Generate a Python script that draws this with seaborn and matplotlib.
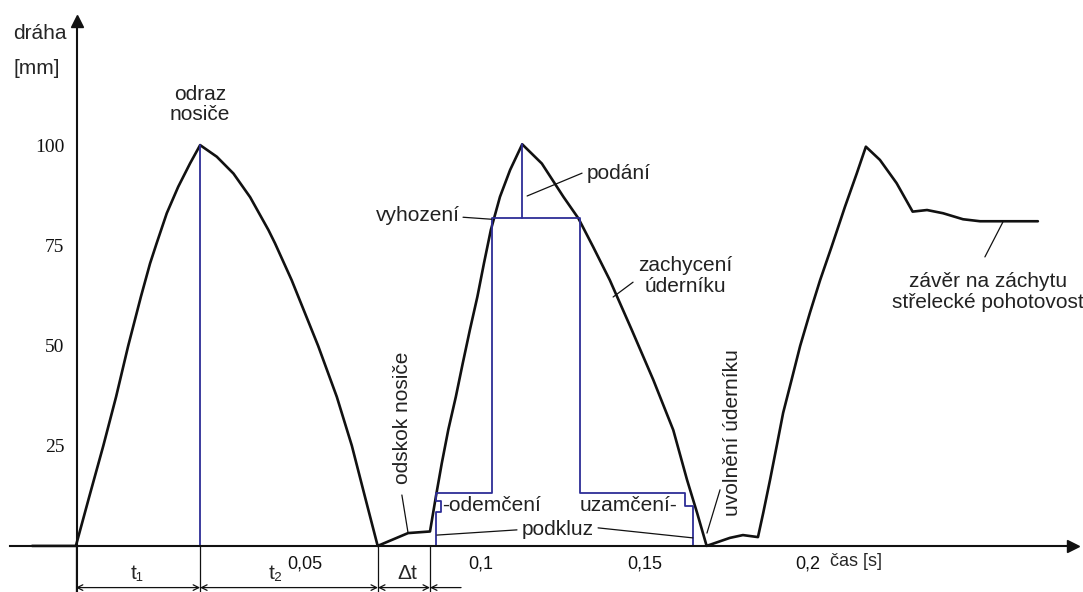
import pandas as pd
import seaborn as sns
import matplotlib
matplotlib.use("Agg")
import matplotlib.pyplot as plt
from matplotlib.transforms import ScaledTranslation

# draha zaveru [mm] v case [s]
cas = [-0.0373, -0.0239, -0.0198, -0.0155, -0.0116, -0.0079, -0.0040, -0.0012,
       0.0008, 0.0039, 0.0074, 0.0110, 0.0141,
       0.0192, 0.0243, 0.0294, 0.0350, 0.0370, 0.0421, 0.0502, 0.0559, 0.0605,
       0.0645, 0.0684,
       0.0777, 0.0844,
       0.0862, 0.0880, 0.0900, 0.0923, 0.0944, 0.0966, 0.0989, 0.1009, 0.1030,
       0.1058, 0.1089, 0.1126,
       0.1186, 0.1252, 0.1298, 0.1343, 0.1394, 0.1461, 0.1527, 0.1588, 0.1630,
       0.1661, 0.1690,
       0.1761, 0.1801, 0.1847,
       0.1863, 0.1884, 0.1904, 0.1924, 0.1950, 0.1976, 0.2006, 0.2037, 0.2072,
       0.2113, 0.2149, 0.2177,
       0.2220, 0.2271, 0.2320, 0.2364, 0.2413, 0.2474, 0.2526, 0.2703]
draha = [0, 0, 12.3, 25.0, 37.2, 49.9, 62.2, 70.5,
         75.5, 83.0, 89.6, 95.4, 100.0,
         97.1, 92.9, 87.0, 78.8, 75.5, 66.3, 49.9, 37.2, 25.0,
         12.3, 0,
         3.2, 3.6,
         12.3, 20.6, 29.0, 37.2, 45.5, 53.9, 62.2, 70.5, 78.8,
         87.1, 93.8, 100.2,
         95.4, 87.1, 81.7, 74.6, 66.3, 53.9, 41.4, 28.9, 16.5,
         8.2, 0,
         2.0, 2.7, 2.2,
         8.2, 16.5, 24.8, 33.2, 41.5, 49.9, 58.2, 66.3, 74.6,
         84.6, 92.9, 99.6,
         96.3, 90.5, 83.4, 83.8, 83.0, 81.5, 81.0, 81.0]

# modre pomocne cary (odraz, podani, ramecek odemceni/uzamceni)
odraz_t = [0.0141, 0.0141]
odraz_s = [0, 100.0]
podani_t = [0.1126, 0.1126]
podani_s = [100.2, 81.8]
ramec_t = [0.0862, 0.0862, 0.0877, 0.0877, 0.0862, 0.0862, 0.1035, 0.1035,
           0.1303, 0.1303, 0.1624, 0.1624, 0.1648, 0.1648]
ramec_s = [0, 8.5, 8.5, 11.2, 11.2, 13.2, 13.2, 81.8,
           81.8, 13.2, 13.2, 10.0, 10.0, 0]

# odkazove cary popisku: (t0, s0, t1, s1)
odkazy = [(0.1141, 87.3, 0.1309, 93.0),     # podani
          (0.0945, 82.0, 0.1032, 81.5),     # vyhozeni
          (0.1465, 65.8, 0.1404, 62.1),     # zachyceni
          (0.0758, 12.7, 0.0777, 3.2),      # odskok
          (0.1731, 14.0, 0.1691, 3.2),      # uvolneni
          (0.2596, 80.8, 0.2541, 72.1),     # zaver
          (0.0865, 2.7, 0.1110, 4.0),       # podkluz vlevo
          (0.1358, 4.5, 0.1648, 2.0)]       # podkluz vpravo

# popisky: text, t, s, zarovnani, natoceni
popisky = [("odraz\nnosiče", 0.0141, 110.1, "center", 0),
           ("podání", 0.1324, 93.0, "left", 0),
           ("vyhození", 0.0936, 82.5, "right", 0),
           ("zachycení\núderníku", 0.1624, 67.3, "center", 0),
           ("odskok nosiče", 0.0761, 31.9, "center", 90),
           ("uvolnění úderníku", 0.1768, 28.2, "center", 90),
           ("závěr na záchytu\nstřelecké pohotovost", 0.2551, 63.3, "center", 0),
           ("-odemčení", 0.0881, 10.0, "left", 0),
           ("uzamčení-", 0.1602, 10.0, "right", 0),
           ("podkluz", 0.1235, 4.0, "center", 0)]

# koty pod osou
kota_t = [-0.0239, 0.0141, 0.0685, 0.0844]
kota_txt = ["t\u2081", "t\u2082", "\u0394t"]
kota_txt_t = [-0.0052, 0.0373, 0.0774]

xtick_pos = [0.0416, 0.1, 0.15, 0.2]   # 0,05 je v predloze mimo meritko
xtick_lab = ["0,05", "0,1", "0,15", "0,2"]
ytick_pos = [25, 50, 75, 100]

osa_t = -0.0236
cerna = "#111111"
modra = "#2d2d96"

sns.set_style("white")
plt.rcParams["font.family"] = ["Liberation Sans", "DejaVu Sans"]

fig = plt.figure(figsize=(10.83, 5.92), dpi=100)
ax = fig.add_axes([0, 0, 1, 1])

krivka = pd.DataFrame({"cas": cas, "draha": draha})
sns.lineplot(data=krivka, x="cas", y="draha", sort=False, estimator=None,
             color=cerna, lw=1.9, ax=ax)

pomocne = pd.concat([
    pd.DataFrame({"t": odraz_t, "s": odraz_s, "usek": 0}),
    pd.DataFrame({"t": podani_t, "s": podani_s, "usek": 1}),
    pd.DataFrame({"t": ramec_t, "s": ramec_s, "usek": 2}),
])
sns.lineplot(data=pomocne, x="t", y="s", units="usek", sort=False,
             estimator=None, color=modra, lw=1.3, ax=ax)

for t0, s0, t1, s1 in odkazy:
    ax.plot([t0, t1], [s0, s1], color=cerna, lw=0.9)

fs = 15
for txt, t, s, ha, rot in popisky:
    ax.text(t, s, txt, ha=ha, va="center", rotation=rot, fontsize=fs,
            color="#222222", linespacing=1.1)

# osy
ax.set_xlim(-0.0471, 0.2841)
ax.set_ylim(-11.5, 136.2)
ax.spines["top"].set_visible(False)
ax.spines["right"].set_visible(False)
ax.spines["left"].set_position(("data", osa_t))
ax.spines["bottom"].set_position(("data", 0))
ax.spines["left"].set_bounds(-11.5, 131)
ax.spines["bottom"].set_bounds(-0.0440, 0.2805)
for sp in ("left", "bottom"):
    ax.spines[sp].set_color(cerna)
    ax.spines[sp].set_linewidth(1.5)
ax.plot([osa_t], [131], marker="^", ms=9, color=cerna, clip_on=False)
ax.plot([0.2810], [0], marker=">", ms=9, color=cerna, clip_on=False)

ax.set_xticks(xtick_pos)
ax.set_xticklabels(xtick_lab, fontsize=13)
ax.set_yticks(ytick_pos)
ax.set_yticklabels([str(v) for v in ytick_pos], fontsize=14,
                   family="Liberation Serif")
ax.tick_params(axis="both", direction="inout", length=6, width=1.2,
               colors=cerna)
ax.tick_params(axis="y", pad=6)
ax.tick_params(axis="x", pad=4)
lab05 = ax.get_xticklabels()[0]
lab05.set_ha("left")
lab05.set_transform(lab05.get_transform()
                    + ScaledTranslation(-0.03, 0, fig.dpi_scale_trans))
ax.set_xlabel("")
ax.set_ylabel("")

ax.text(-0.0431, 127.9, "dráha", fontsize=fs, va="center", ha="left")
ax.text(-0.0431, 119.2, "[mm]", fontsize=fs, va="center", ha="left")
ax.text(0.2147, -4.0, "čas [s]", fontsize=13, va="center", ha="center")

# koty t1, t2, dt
for t in kota_t:
    ax.plot([t, t], [0, -11.5], color=cerna, lw=0.9, clip_on=False)
y_kota = -10.4
for i, txt in enumerate(kota_txt):
    ax.annotate("", xy=(kota_t[i], y_kota), xytext=(kota_t[i + 1], y_kota),
                arrowprops=dict(arrowstyle="<->", color=cerna, lw=0.9,
                                shrinkA=0, shrinkB=0))
    ax.text(kota_txt_t[i], -7.0, txt, fontsize=fs, ha="center", va="center")
ax.annotate("", xy=(kota_t[-1], y_kota), xytext=(kota_t[-1] + 0.0095, y_kota),
            arrowprops=dict(arrowstyle="->", color=cerna, lw=0.9,
                            shrinkA=0, shrinkB=0))

fig.savefig("out.png", dpi=100)
